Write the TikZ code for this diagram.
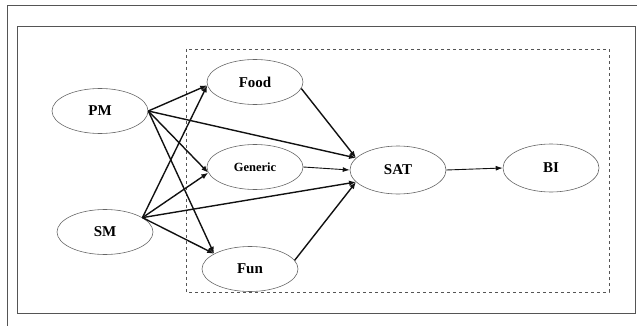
\documentclass[tikz,border=0pt]{standalone}
\usepackage{tikz}
\usetikzlibrary{shapes.geometric, arrows.meta}
\usepackage{fontspec}
\setmainfont{Liberation Serif}
\usepackage{xcolor}
\definecolor{framegray}{HTML}{555555}
\definecolor{ovalgray}{HTML}{666666}
\definecolor{linkblack}{HTML}{111111}

\begin{document}
\begin{tikzpicture}[x=1pt, y=-1pt,
    construct/.style={ellipse, draw=ovalgray, line width=0.6pt, minimum width=96pt,
      minimum height=45pt, inner sep=0pt, font=\fontsize{15}{18}\selectfont\bfseries},
    path/.style={linkblack, line width=1.4pt, -{Latex[length=7pt, width=5.5pt]}},
    thinpath/.style={linkblack, line width=0.9pt, -{Latex[length=7pt, width=5pt]}}]
        \useasboundingbox (0,0) rectangle (637,326);
        \draw[framegray, line width=0.8pt] (7,326) -- (7,5) -- (637,5);
        \draw[framegray, line width=0.8pt] (17,26) rectangle (635,313);
        \draw[framegray, dashed, line width=0.6pt] (186,49) rectangle (609,292);
        % constructs
        \node[construct] (pm) at (100,111) {PM};
        \node[construct] (sm) at (105,232) {SM};
        \node[construct] (food) at (255,82) {Food};
        \node[construct, font=\fontsize{12.5}{15}\selectfont\bfseries] (generic) at (255,167) {Generic};
        \node[construct] (fun) at (250,269) {Fun};
        \node[construct, minimum height=48pt] (sat) at (398,170) {SAT};
        \node[construct, minimum height=48pt] (bi) at (551,168) {BI};
        % paths
        \foreach \a/\b in {pm.east/food.184, pm.east/generic.187, pm.east/fun.157, pm.east/sat.164,
                           sm.21/food.184, sm.21/generic.187, sm.21/fun.157, sm.21/sat.196,
                           food.352/sat.164, fun.11/sat.196} {
          \draw[path] (\a) -- (\b);
        }
        \draw[thinpath] (generic.east) -- (sat.west);
        \draw[thinpath] (sat.east) -- (bi.west);
      \end{tikzpicture}
\end{document}
